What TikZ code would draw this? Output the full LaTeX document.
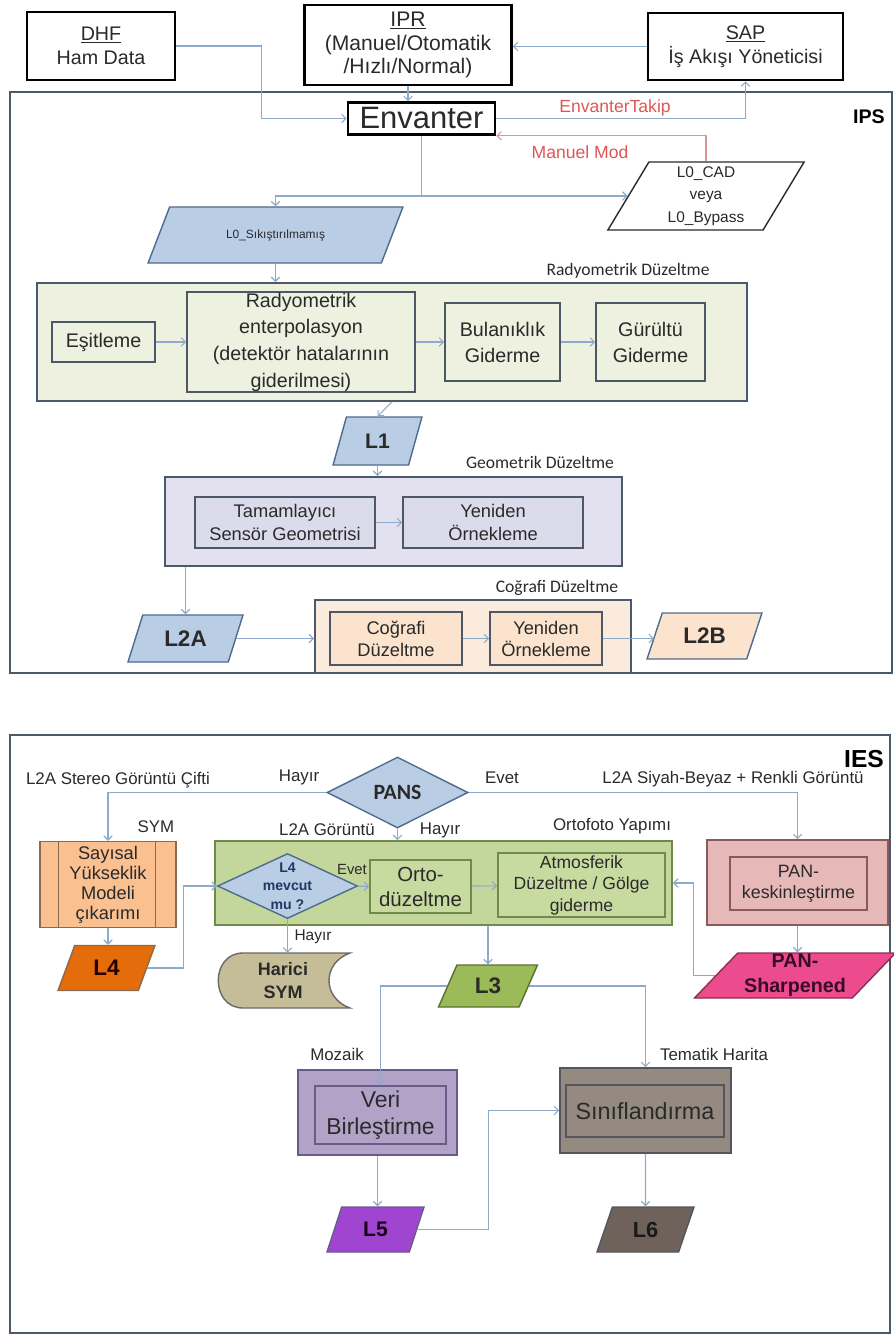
\documentclass[tikz,border=0pt]{standalone}
\usepackage{fontspec}
\setmainfont{Liberation Sans}
\newfontfamily\calfont{Carlito}
\usetikzlibrary{shapes.geometric, arrows.meta, positioning}

\definecolor{arrcol}{HTML}{8EAACB}
\definecolor{mancol}{HTML}{D99694}
\definecolor{redtxt}{HTML}{E05555}
\definecolor{txtcol}{HTML}{2A2A2A}
\definecolor{frmcol}{HTML}{4A5A6B}
\definecolor{boxcol}{HTML}{4C5866}
\definecolor{radfill}{HTML}{EEF1E0}
\definecolor{geofill}{HTML}{E3E1EF}
\definecolor{geoin}{HTML}{DCDBEC}
\definecolor{cogfill}{HTML}{FBEBDD}
\definecolor{cogin}{HTML}{FBE3CD}
\definecolor{bluefill}{HTML}{B9CDE5}
\definecolor{blueline}{HTML}{4F6B8D}
\definecolor{orthofill}{HTML}{C3D69B}
\definecolor{orthoin}{HTML}{C7DA9F}
\definecolor{ortholine}{HTML}{6E8B4C}
\definecolor{symfill}{HTML}{FAC090}
\definecolor{symline}{HTML}{8A6A50}
\definecolor{lfourfill}{HTML}{E46C0A}
\definecolor{harfill}{HTML}{C4BD97}
\definecolor{harline}{HTML}{6A6A6A}
\definecolor{lthreefill}{HTML}{9BBB59}
\definecolor{lthreeline}{HTML}{5A7030}
\definecolor{panfill}{HTML}{E6B9B8}
\definecolor{panline}{HTML}{8A5A5A}
\definecolor{psfill}{HTML}{EC4C8E}
\definecolor{psline}{HTML}{8A3050}
\definecolor{pstext}{HTML}{3A0A2A}
\definecolor{verifill}{HTML}{B3A2C7}
\definecolor{veriline}{HTML}{6A5A8A}
\definecolor{lfivefill}{HTML}{A045D0}
\definecolor{sinfill}{HTML}{948A80}
\definecolor{sinline}{HTML}{55555F}
\definecolor{lsixfill}{HTML}{6E625A}
\definecolor{navy}{HTML}{1F3864}

\begin{document}
\begin{tikzpicture}[x=0.025cm,y=-0.025cm,
  arr/.style={draw=arrcol, line width=0.8pt, -{Straight Barb[length=3pt,width=6pt]}},
  topbox/.style={draw=black, line width=1.8pt, fill=white, align=center, text=txtcol, inner sep=1pt, font=\fontsize{14}{17}\selectfont},
  frm/.style={draw=frmcol, line width=1.3pt, inner sep=0pt},
  inbox/.style={draw=boxcol, line width=1.1pt, align=center, text=txtcol, inner sep=0pt},
  para/.style={trapezium, trapezium stretches=true, trapezium left angle=#1, trapezium right angle={180-#1}, draw=blueline, line width=1pt, inner sep=0pt, align=center, text=txtcol},
  seclbl/.style={text=txtcol, font=\calfont\fontsize{12.5}{14}\selectfont},
  lbl/.style={text=txtcol, font=\fontsize{12}{14}\selectfont},
  redlbl/.style={text=redtxt, font=\fontsize{12.5}{14}\selectfont}
]
\useasboundingbox (0,0) rectangle (894,1336);

% IPS
\draw[frm] (10,92) rectangle (892,673);
\node[font=\bfseries\fontsize{14}{16}\selectfont] (ips) at (869,117) {IPS};

\node[topbox, minimum width=3.7cm, minimum height=1.7cm] (dhf) at (101,46) {\underline{DHF}\\Ham Data};
\node[topbox, minimum width=5.175cm, minimum height=2cm, font=\fontsize{15}{17}\selectfont] (ipr) at (408,45) {\underline{IPR}\\(Manuel/Otomatik\\/Hızlı/Normal)};
\node[topbox, minimum width=4.875cm, minimum height=1.675cm] (sap) at (745.5,46.5) {\underline{SAP}\\İş Akışı Yöneticisi};
\node[topbox, minimum width=3.675cm, minimum height=0.8cm, inner sep=0pt, font=\fontsize{22}{24}\selectfont] (envanter) at (421.5,118.5) {Envanter};

\node[para=65, fill=white, draw=txtcol, minimum width=4.95cm, minimum height=1.7cm, font=\fontsize{11}{16}\selectfont] (lcad) at (706,196) {L0\_CAD\\veya\\L0\_Bypass};
\node[para=48, fill=bluefill, minimum width=6.375cm, minimum height=1.4cm, font=\fontsize{8.5}{10}\selectfont] (lzero) at (275.5,235) {L0\_Sıkıştırılmamış};

\node[redlbl] (takip) at (615,108) {EnvanterTakip};
\node[redlbl] (manuel) at (580,152) {Manuel Mod};

\draw[arr] (dhf.east) -- ++(85,0) |- (envanter.west);
\draw[arr] (ipr.south) -- (ipr.south |- envanter.north);
\draw[arr] (sap.west) -- (sap.west -| ipr.east);
\draw[arr] (envanter.east) -| (sap.south);
\draw[arr, draw=mancol] (lcad.north) |- (envanter.south east);
\draw[arr] (envanter.south) |- (lcad.west);
\draw[arr] (envanter.south |- lcad.west) -| (lzero.north);

% Radyometrik
\node[frm, fill=radfill, minimum width=17.75cm, minimum height=2.95cm] (radfrm) at (392,342) {};
\node[seclbl] (radlbl) at (628,271) {Radyometrik Düzeltme};
\node[inbox, fill=radfill, minimum width=2.575cm, minimum height=1cm, font=\fontsize{14}{18}\selectfont] (esit) at (103.5,342) {Eşitleme};
\node[inbox, fill=radfill, minimum width=5.7cm, minimum height=2.5cm, font=\fontsize{14}{19}\selectfont] (renter) at (301,342) {Radyometrik\\enterpolasyon\\(detektör hatalarının\\giderilmesi)};
\node[inbox, fill=radfill, minimum width=2.875cm, minimum height=1.95cm, font=\fontsize{14}{18.5}\selectfont] (bulan) at (502.5,342) {Bulanıklık\\Giderme};
\node[inbox, fill=radfill, minimum width=2.725cm, minimum height=1.95cm, font=\fontsize{14}{18.5}\selectfont] (gurul) at (650.5,342) {Gürültü\\Giderme};
\draw[arr] (lzero.south) -- (lzero.south |- radfrm.north);
\draw[arr] (esit) -- (renter);
\draw[arr] (renter) -- (bulan);
\draw[arr] (bulan) -- (gurul);

\node[para=70, fill=bluefill, minimum width=2.225cm, minimum height=1.2cm, font=\bfseries\fontsize{15}{17}\selectfont] (lone) at (377.5,441) {L1};
\draw[arr] (radfrm.south) -- (lone.north);

% Geometrik
\node[frm, fill=geofill, minimum width=11.425cm, minimum height=2.225cm] (geofrm) at (393.5,521.5) {};
\node[seclbl] (geolbl) at (540,462) {Geometrik Düzeltme};
\node[inbox, fill=geoin, minimum width=4.5cm, minimum height=1.275cm, font=\fontsize{13}{16}\selectfont] (tamam) at (285,522.5) {Tamamlayıcı\\Sensör Geometrisi};
\node[inbox, fill=geoin, minimum width=4.5cm, minimum height=1.275cm, font=\fontsize{13}{16}\selectfont] (yenA) at (493,522.5) {Yeniden\\Örnekleme};
\draw[arr] (lone.south) -- (lone.south |- geofrm.north);
\draw[arr] (tamam) -- (yenA);

\node[para=65, fill=bluefill, minimum width=2.875cm, minimum height=1.175cm, font=\bfseries\fontsize{16}{18}\selectfont] (ltwoa) at (185.5,638.5) {L2A};
\draw[arr] (geofrm.south -| ltwoa.north) -- (ltwoa.north);

% Cografi
\node[frm, fill=cogfill, minimum width=7.9cm, minimum height=1.825cm] (cogfrm) at (473,636.5) {};
\node[seclbl] (coglbl) at (557,588) {Coğrafi Düzeltme};
\node[inbox, fill=cogin, minimum width=3.3cm, minimum height=1.325cm, font=\fontsize{13}{15.6}\selectfont] (cogduz) at (396,638.5) {Coğrafi\\Düzeltme};
\node[inbox, fill=cogin, minimum width=2.8cm, minimum height=1.325cm, font=\fontsize{13}{15.6}\selectfont] (yenB) at (546,638.5) {Yeniden\\Örnekleme};
\node[para=64, fill=cogin, minimum width=2.875cm, minimum height=1.15cm, font=\bfseries\fontsize{16}{18}\selectfont] (ltwob) at (704.5,636) {L2B};
\draw[arr] (ltwoa.east) -- (ltwoa.east -| cogfrm.west);
\draw[arr] (cogduz) -- (yenB);
\draw[arr] (yenB.east) -- (yenB.east -| ltwob.west);

% IES
\draw[frm] (10,735) rectangle (890,1333);
\node[font=\bfseries\fontsize{17.5}{19}\selectfont] (ies) at (864,759) {IES};

\node[diamond, aspect=2, fill=bluefill, draw=blueline, line width=1pt, minimum width=3.525cm, minimum height=1.775cm, inner sep=0pt, text=txtcol, font=\calfont\bfseries\fontsize{15.5}{17}\selectfont] (pans) at (397.5,792.5) {PANS};
\node[lbl] (stereo) at (118,780) {L2A Stereo Görüntü Çifti};
\node[lbl] (hayirA) at (299,777) {Hayır};
\node[lbl] (evetA) at (502,778) {Evet};
\node[lbl] (siyah) at (733,779) {L2A Siyah-Beyaz + Renkli Görüntü};
\node[lbl] (symlbl) at (156,827) {SYM};
\node[lbl] (gorA) at (327,830) {L2A Görüntü};
\node[lbl] (hayirB) at (440,830) {Hayır};
\node[lbl] (ortolbl) at (612,826) {Ortofoto Yapımı};

\node[draw=symline, line width=1pt, fill=symfill, minimum width=3.4cm, minimum height=2.15cm, inner sep=0pt, align=center, text=txtcol, font=\fontsize{13}{14.3}\selectfont] (sym) at (108,884.5) {Sayısal\\Yükseklik\\Modeli\\çıkarımı};
\draw[draw=symline, line width=1pt] ([xshift=0.475cm]sym.north west) -- ([xshift=0.475cm]sym.south west);
\draw[draw=symline, line width=1pt] ([xshift=-0.525cm]sym.north east) -- ([xshift=-0.525cm]sym.south east);

\node[draw=panline, line width=1.1pt, fill=panfill, minimum width=4.525cm, minimum height=2.125cm] (panbox) at (797.5,882.5) {};
\node[inbox, draw=panline, fill=panfill, minimum width=3.425cm, minimum height=1.325cm, font=\fontsize{12.7}{15}\selectfont] (pankes) at (798.5,883.5) {PAN-\\keskinleştirme};

\node[draw=ortholine, line width=1.3pt, fill=orthofill, minimum width=11.425cm, minimum height=2.1cm] (ortofrm) at (443.5,883) {};
\node[diamond, aspect=2, fill=bluefill, draw=blueline, line width=1pt, minimum width=3.5cm, minimum height=1.625cm, inner sep=0pt] (mevcut) at (287.5,886) {};
\node[align=center, text=navy, inner sep=0pt, font=\bfseries\fontsize{10}{13}\selectfont] (mevtxt) at (mevcut) {L4\\mevcut\\mu ?};
\node[lbl, font=\fontsize{10.5}{12}\selectfont] (evetB) at (352,869) {Evet};
\node[inbox, draw=ortholine, fill=orthoin, minimum width=2.525cm, minimum height=1.325cm, font=\fontsize{14.5}{17.8}\selectfont] (ortoduz) at (420.5,886.5) {Orto-\\düzeltme};
\node[inbox, draw=ortholine, fill=orthoin, minimum width=4.175cm, minimum height=1.6cm, font=\fontsize{12.5}{15.3}\selectfont] (atmos) at (581.5,885) {Atmosferik\\Düzeltme / Gölge\\giderme};

\draw[arr] (pans.west) -| (sym.north);
\draw[arr] (pans.east) -| (panbox.north);
\draw[arr] (pans.south) -- (pans.south |- ortofrm.north);
\draw[arr] (mevcut) -- (ortoduz);
\draw[arr] (ortoduz) -- (atmos);

\node[para=66, fill=lfourfill, draw=symline, minimum width=2.425cm, minimum height=1.125cm, text=black!85!red, font=\bfseries\fontsize{16}{18}\selectfont] (lfour) at (106.5,968) {L4};
\draw[arr] (sym.south) -- (sym.south |- lfour.north);
\draw[arr] (lfour.east) -- ++(36,0) |- (mevcut.west);

\filldraw[draw=harline, line width=1pt, fill=harfill] (243,953) -- (350,953) .. controls (322,963) and (322,998) .. (350,1008) -- (243,1008) .. controls (210,1008) and (210,953) .. (243,953) -- cycle;
\node[minimum width=3.3cm, minimum height=1.375cm, inner sep=0pt, align=center, text=txtcol, font=\bfseries\fontsize{12.8}{16.4}\selectfont] (harici) at (283,980.5) {Harici\\SYM};
\node[lbl, font=\fontsize{11}{12}\selectfont] (hayirC) at (313,937) {Hayır};
\draw[arr] (mevcut.south) -- (mevcut.south |- harici.north);

\node[para=64, fill=lthreefill, draw=lthreeline, minimum width=2.475cm, minimum height=1.05cm, font=\bfseries\fontsize{16}{18}\selectfont] (lthree) at (488,986) {L3};
\draw[arr] (ortofrm.south -| lthree.north) -- (lthree.north);

\node[para=48, fill=psfill, draw=psline, minimum width=5.025cm, minimum height=1.125cm, text=pstext, font=\bfseries\fontsize{14}{17.8}\selectfont] (pansharp) at (795,975.5) {PAN-\\Sharpened};
\draw[arr] (panbox.south) -- (panbox.south |- pansharp.north);
\draw[arr] (pansharp.west) -- ++(-22,0) |- (ortofrm.east);

% Mozaik / Tematik
\node[draw=veriline, line width=1.1pt, fill=verifill, minimum width=3.975cm, minimum height=2.125cm] (veri) at (377.5,1112.5) {};
\node[inbox, draw=veriline, fill=verifill, minimum width=3.275cm, minimum height=1.45cm, font=\fontsize{16.3}{19.5}\selectfont] (veriin) at (380.5,1115) {Veri\\Birleştirme};
\node[lbl] (mozlbl) at (337,1054) {Mozaik};
\node[draw=sinline, line width=1.1pt, fill=sinfill, minimum width=4.275cm, minimum height=2.125cm] (sinif) at (645.5,1110.5) {};
\node[inbox, draw=sinline, fill=sinfill, minimum width=3.95cm, minimum height=1.3cm, font=\fontsize{16.6}{19}\selectfont] (sinifin) at (645,1111) {Sınıflandırma};
\node[lbl] (temlbl) at (714,1054) {Tematik Harita};

\node[para=70, fill=lfivefill, draw=veriline, minimum width=2.425cm, minimum height=1.125cm, text=black!80!violet, font=\bfseries\fontsize{15}{17}\selectfont] (lfive) at (375.5,1229.5) {L5};
\node[para=69, fill=lsixfill, draw=sinline, minimum width=2.425cm, minimum height=1.125cm, text=black!90, font=\bfseries\fontsize{15.5}{17}\selectfont] (lsix) at (645.5,1229.5) {L6};

\draw[arr] (lthree.west) -| (veriin.north);
\draw[arr] (lthree.east) -| (sinif.north);
\draw[arr] (veri.south) -- (veri.south |- lfive.north);
\draw[arr] (lfive.east) -- ++(71,0) |- (sinif.west);
\draw[arr] (sinif.south) -- (lsix.north);

\end{tikzpicture}
\end{document}
